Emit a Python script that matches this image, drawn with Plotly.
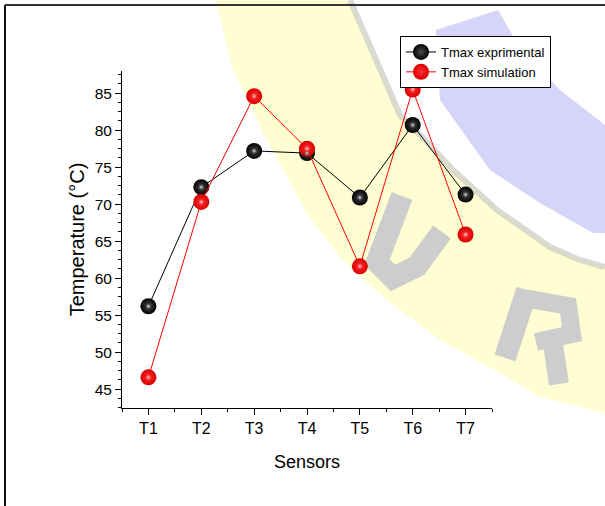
import plotly.graph_objects as go

sensors = ["T1", "T2", "T3", "T4", "T5", "T6", "T7"]
tmax_exp = [56.2, 72.3, 77.2, 76.9, 70.9, 80.7, 71.3]
tmax_sim = [46.6, 70.3, 84.6, 77.5, 61.6, 85.5, 65.9]
xpos = list(range(len(sensors)))

W, H = 605, 506
L, R, T, B = 122, 113, 71, 98
PW, PH = W - L - R, H - T - B


def px(x, y):
    return (x - L) / PW, (H - B - y) / PH


def path(points, close=True):
    s = ""
    for i, (x, y) in enumerate(points):
        a, b = px(x, y)
        s += ("M" if i == 0 else "L") + f"{a:.4f},{b:.4f} "
    return s + ("Z" if close else "")


FONT = "Liberation Sans, Arial, sans-serif"

fig = go.Figure()

fig.add_trace(go.Scatter(
    x=xpos, y=tmax_exp, mode="lines+markers", name="Tmax exprimental",
    line=dict(color="black", width=1),
    marker=dict(size=16, color="#000000", gradient=dict(type="radial", color="#4a4a4a"),
                line=dict(width=0)),
    hoverinfo="skip"))
fig.add_trace(go.Scatter(
    x=xpos, y=tmax_sim, mode="lines+markers", name="Tmax simulation",
    line=dict(color="#ff0000", width=1),
    marker=dict(size=16, color="#d80000", gradient=dict(type="radial", color="#ff3030"),
                line=dict(width=0)),
    hoverinfo="skip"))
# sphere highlights
fig.add_trace(go.Scatter(
    x=xpos, y=tmax_exp, mode="markers", showlegend=False, hoverinfo="skip",
    marker=dict(size=8, color="rgba(0,0,0,0)",
                gradient=dict(type="radial", color="rgba(240,240,240,1)"), line=dict(width=0))))
fig.add_trace(go.Scatter(
    x=xpos, y=tmax_sim, mode="markers", showlegend=False, hoverinfo="skip",
    marker=dict(size=8, color="rgba(255,0,0,0)",
                gradient=dict(type="radial", color="rgba(255,230,230,1)"), line=dict(width=0))))

shapes = []
# watermark: yellow band
yellow = [(216, 0), (232, 67), (263, 133), (309, 217), (340, 257), (383, 297), (440, 340),
          (507, 377), (540, 397), (605, 413), (605, 267), (580, 260), (550, 247), (497, 210),
          (453, 170), (425, 140), (400, 115), (348, 0)]
shapes.append(dict(type="path", xref="paper", yref="paper", path=path(yellow),
                   fillcolor="#fffed2", line=dict(width=0), layer="below"))
# shadow line along the band
shade = [(350, 0), (400, 115), (425, 140), (453, 170), (497, 210), (550, 247), (580, 260), (605, 267)]
shapes.append(dict(type="path", xref="paper", yref="paper", path=path(shade, close=False),
                   line=dict(color="rgba(205,205,198,0.75)", width=6), layer="below"))
# blue band
blue = [(436, 30), (498, 10), (521, 50), (560, 90), (605, 125), (605, 233), (593, 233),
        (540, 203), (490, 170), (440, 100)]
shapes.append(dict(type="path", xref="paper", yref="paper", path=path(blue),
                   fillcolor="#d6d5f9", line=dict(width=0), layer="below"))
# letters U and R
GRAY = "#cdcdcd"
letter_u = [(402, 196), (377, 262), (393, 278), (417, 266), (442, 232)]
shapes.append(dict(type="path", xref="paper", yref="paper", path=path(letter_u, close=False),
                   line=dict(color=GRAY, width=22), layer="below"))
letter_r_stem = [(527, 290), (505, 358)]
shapes.append(dict(type="path", xref="paper", yref="paper", path=path(letter_r_stem, close=False),
                   line=dict(color=GRAY, width=22), layer="below"))
letter_r_bowl = [(524, 298), (568, 306), (572, 334), (536, 342)]
shapes.append(dict(type="path", xref="paper", yref="paper", path=path(letter_r_bowl, close=False),
                   line=dict(color=GRAY, width=18), layer="below"))
letter_r_leg = [(552, 338), (559, 384)]
shapes.append(dict(type="path", xref="paper", yref="paper", path=path(letter_r_leg, close=False),
                   line=dict(color=GRAY, width=20), layer="below"))
# outer frame
x0, y0 = px(5, 5)
x1, _ = px(605, 5)
_, y1 = px(5, 506)
shapes.append(dict(type="line", xref="paper", yref="paper", x0=x0, y0=y0, x1=x1, y1=y0,
                   line=dict(color="#333333", width=2), layer="above"))
shapes.append(dict(type="line", xref="paper", yref="paper", x0=x0, y0=y0, x1=x0, y1=y1,
                   line=dict(color="#111111", width=2), layer="above"))

lx, ly = px(400, 36)

fig.update_layout(
    width=W, height=H,
    margin=dict(l=L, r=R, t=T, b=B, autoexpand=False),
    paper_bgcolor="white", plot_bgcolor="rgba(0,0,0,0)",
    font=dict(family=FONT, color="black"),
    shapes=shapes,
    showlegend=True,
    legend=dict(x=lx, y=ly, xanchor="left", yanchor="top",
                bgcolor="white", bordercolor="black", borderwidth=1,
                font=dict(size=13, family=FONT), tracegroupgap=0),
    xaxis=dict(
        range=[-0.5, 6.5], tickmode="array", tickvals=xpos, ticktext=sensors,
        showgrid=False, zeroline=False, showline=True, linecolor="black", linewidth=1,
        ticks="outside", ticklen=6, tickcolor="black", tickfont=dict(size=16),
        minor=dict(dtick=0.5, tick0=-0.5, ticks="outside", ticklen=3, tickcolor="black", showgrid=False),
        title=dict(text="Sensors", font=dict(size=18), standoff=19),
        automargin=False),
    yaxis=dict(
        range=[42.45, 88.0], tickmode="linear", tick0=45, dtick=5,
        showgrid=False, zeroline=False, showline=True, linecolor="black", linewidth=1,
        ticks="outside", ticklen=6, tickcolor="black", tickfont=dict(size=15.5),
        minor=dict(dtick=1.25, tick0=45, ticks="outside", ticklen=3, tickcolor="black", showgrid=False),
        title=dict(text="Temperature (°C)", font=dict(size=20), standoff=4),
        automargin=False),
)

fig.write_html("out.html")
